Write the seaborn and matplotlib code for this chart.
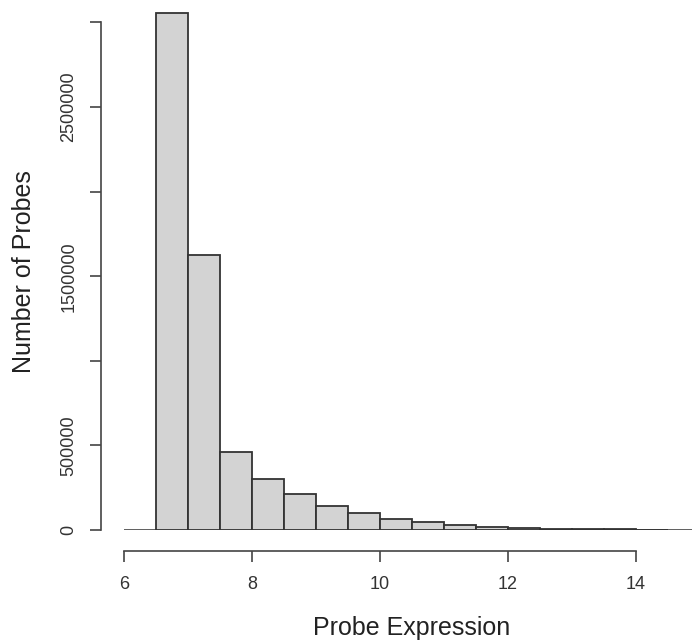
import numpy as np
import pandas as pd
import matplotlib
matplotlib.use("Agg")
import matplotlib.pyplot as plt
import seaborn as sns

# Histogram bins (probe expression) and probe counts per bin
bin_edges = [6.5, 7.0, 7.5, 8.0, 8.5, 9.0, 9.5, 10.0, 10.5, 11.0,
             11.5, 12.0, 12.5, 13.0, 13.5, 14.0, 14.5]
probe_counts = [3054000, 1625000, 463000, 303000, 211000, 144000, 103000,
                67000, 49000, 31000, 20000, 14000, 8000, 5000, 3500, 2500]
x_ticks = [6, 8, 10, 12, 14]
y_ticks = [0, 500000, 1000000, 1500000, 2000000, 2500000, 3000000]
y_tick_labels = ["0", "500000", "", "1500000", "", "2500000", ""]

sns.set_style("ticks")
plt.rcParams["font.family"] = ["Liberation Sans", "DejaVu Sans"]

W, H = 692, 641
fig = plt.figure(figsize=(W / 100, H / 100), dpi=100)
ax = fig.add_axes([124 / W, (H - 530) / H, (W - 124) / W, 530 / H])

df = pd.DataFrame({
    "mid": [(a + b) / 2 for a, b in zip(bin_edges[:-1], bin_edges[1:])],
    "count": probe_counts,
})

axis_col = "#444444"
sns.histplot(data=df, x="mid", weights="count", bins=bin_edges, ax=ax,
             color="#d3d3d3", edgecolor="#333333", linewidth=1.3, alpha=1.0)
ax.axhline(0, color=axis_col, lw=1.2, zorder=0)

ax.set_xlim(6, 6 + (W - 124) / 64)
ax.set_ylim(0, 530 / 169.2 * 1e6)

for s in ("top", "right"):
    ax.spines[s].set_visible(False)
ax.spines["left"].set_position(("outward", 23 * 0.72))
ax.spines["bottom"].set_position(("outward", 20.7 * 0.72))
ax.spines["left"].set_bounds(0, 3000000)
ax.spines["bottom"].set_bounds(6, 14)
for s in ("left", "bottom"):
    ax.spines[s].set_color(axis_col)
    ax.spines[s].set_linewidth(1.2)

ax.set_xticks(x_ticks)
ax.set_xticklabels([str(t) for t in x_ticks])
ax.set_yticks(y_ticks)
ax.set_yticklabels(y_tick_labels, rotation=90, va="center")
ax.tick_params(axis="both", length=11 * 0.72, width=1.2, color=axis_col,
               labelsize=13, labelcolor="#333333")
ax.tick_params(axis="y", pad=9)
ax.tick_params(axis="x", pad=10)

ax.set_xlabel("")
ax.set_ylabel("")
fig.text(412 / W, 1 - 635 / H, "Probe Expression", ha="center", va="baseline",
         fontsize=18, color="#222222")
fig.text(24 / W, 1 - 272 / H, "Number of Probes", ha="center", va="center",
         rotation=90, fontsize=18, color="#222222")

fig.savefig("out.png", dpi=100)
